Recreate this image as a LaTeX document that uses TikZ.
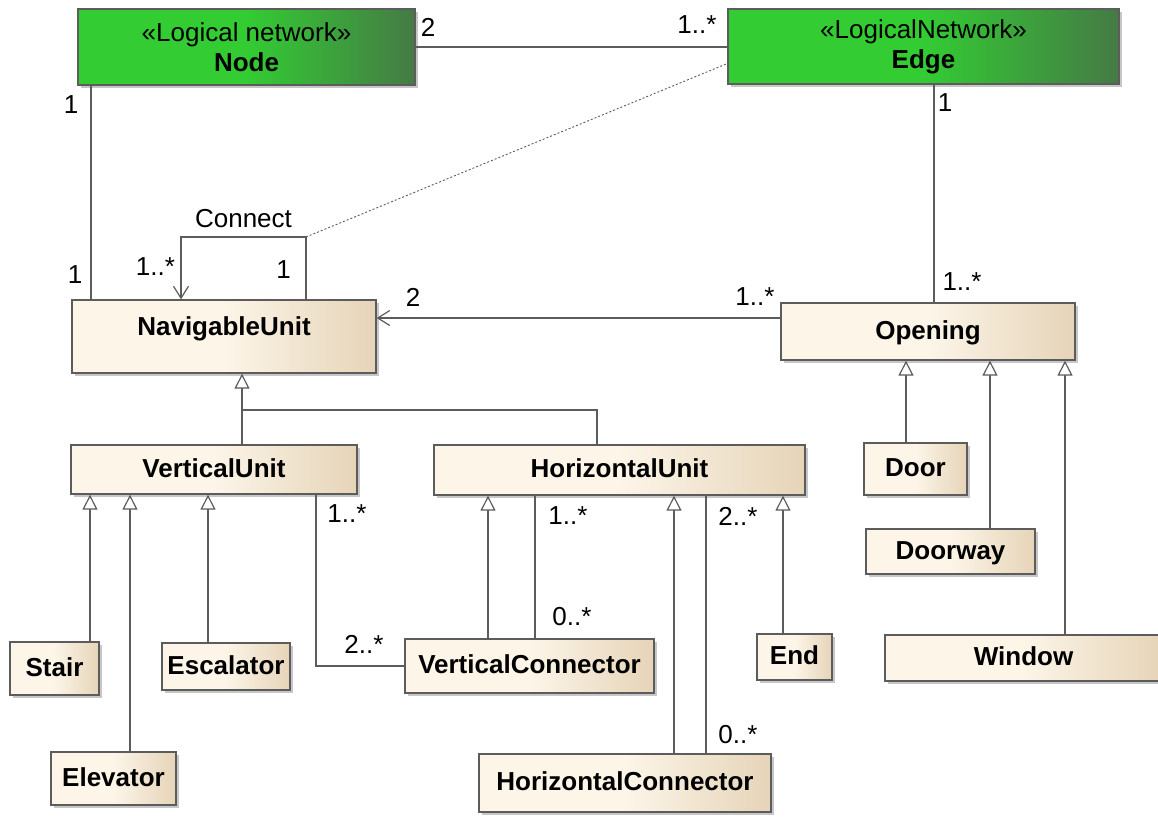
\documentclass[tikz,border=0pt]{standalone}
\usepackage{fontspec}
\setmainfont{Liberation Sans}
\usetikzlibrary{positioning, shapes, arrows.meta, shadows}
\definecolor{beigeL}{HTML}{FCF5E8}
\definecolor{beigeR}{HTML}{E6D4B8}
\definecolor{greenL}{HTML}{33CC33}
\definecolor{greenR}{HTML}{457A45}
\definecolor{umlline}{HTML}{5C5C5C}

\begin{document}
\begin{tikzpicture}[x = 1pt, y = -1pt, thick,
  cls/.style={rectangle, draw = umlline, line width = 1.3pt, left color = beigeL, right color = beigeR, middle color = beigeL, inner sep = 0pt, font = \fontsize{26}{30}\selectfont\bfseries, text height = 19pt, text depth = 4pt, drop shadow = {shadow xshift = 3pt, shadow yshift = -3pt, fill = black, opacity = 0.22}},
  net/.style={rectangle, draw = umlline, line width = 1.3pt, left color = greenL, right color = greenR, middle color = greenL, inner sep = 0pt, align = center, font = \fontsize{26}{30}\selectfont, drop shadow = {shadow xshift = 3pt, shadow yshift = -3pt, fill = black, opacity = 0.22}},
  mult/.style={inner sep = 0pt, font = \fontsize{26}{30}\selectfont},
  link/.style={draw = umlline, line width = 1.2pt},
  gen/.style={link, -{Triangle[length = 15pt, width = 15pt, fill = white]}},
  assoc/.style={link, -{Straight Barb[length = 12pt, width = 15pt]}}]
  \path [use as bounding box, fill = white] (0,0) rectangle (1158,816);

  % nodes
  \node [net, minimum width = 337, minimum height = 76] (node) at (246.5,47) {«Logical network»\\\textbf{Node}};
  \node [net, minimum width = 391, minimum height = 75] (edge) at (923.5,46.5) {«LogicalNetwork»\\\textbf{Edge}};

  \node [cls, minimum width = 304, minimum height = 73, text depth = 22pt] (nav) at (224,336.5) {NavigableUnit};
  \node [cls, minimum width = 294, minimum height = 57] (opening) at (928,331.5) {Opening};

  \node [cls, minimum width = 286, minimum height = 49] (vu) at (214,469.5) {VerticalUnit};
  \node [cls, minimum width = 371, minimum height = 50] (hu) at (619.5,470) {HorizontalUnit};

  \node [cls, minimum width = 103, minimum height = 52] (door) at (915.5,469) {Door};
  \node [cls, minimum width = 169, minimum height = 45] (doorway) at (950.5,551.5) {Doorway};
  \node [cls, minimum width = 277, minimum height = 46] (window) at (1023.5,658) {Window};

  \node [cls, minimum width = 89, minimum height = 53] (stair) at (54.5,668.5) {Stair};
  \node [cls, minimum width = 128, minimum height = 47] (escalator) at (226,666.5) {Escalator};
  \node [cls, minimum width = 125, minimum height = 53] (elevator) at (113.5,778.5) {Elevator};

  \node [cls, minimum width = 249, minimum height = 54] (vconn) at (529.5,666) {VerticalConnector};
  \node [cls, minimum width = 75, minimum height = 46] (endbox) at (794.5,657) {End};
  \node [cls, minimum width = 292, minimum height = 58] (hconn) at (625,783) {HorizontalConnector};

  % columns of the connectors
  \coordinate (cNode) at (91,0);
  \coordinate (cLoopIn) at (181,0);
  \coordinate (cLoopOut) at (306,0);
  \coordinate (cNav) at (242,0);
  \coordinate (cHu) at (597,0);
  \coordinate (cEdge) at (934,0);
  \coordinate (cDoor) at (906,0);
  \coordinate (cDoorway) at (990,0);
  \coordinate (cWindow) at (1065,0);
  \coordinate (cStair) at (90,0);
  \coordinate (cElevator) at (130,0);
  \coordinate (cEscalator) at (208,0);
  \coordinate (cVuVc) at (316,0);
  \coordinate (cVcGen) at (488,0);
  \coordinate (cVcAssoc) at (535,0);
  \coordinate (cHcGen) at (674,0);
  \coordinate (cHcAssoc) at (706,0);
  \coordinate (cEnd) at (783,0);
  \coordinate (loop) at (181,237);
  \coordinate (bar) at (242,410);
  \coordinate (rOpening) at (0,318);

  % edges
  \draw [link] (node.east) -- (node.east -| edge.west);
  \draw [link] (node.south -| cNode) -- (nav.north -| cNode);
  \draw [assoc] (nav.north -| cLoopOut) |- (loop) -- (nav.north -| cLoopIn);
  \draw [link, line width = 0.9pt, dash pattern = on 2pt off 2pt] (loop -| cLoopOut) -- ([yshift = -17pt]edge.west);
  \draw [link] (edge.south -| cEdge) -- (opening.north -| cEdge);
  \draw [assoc] (opening.west |- rOpening) -- (nav.east |- rOpening);

  \draw [gen] (vu.north -| cNav) -- (nav.south -| cNav);
  \draw [link] (hu.north -| cHu) |- (bar);

  \draw [gen] (door.north -| cDoor) -- (opening.south -| cDoor);
  \draw [gen] (doorway.north -| cDoorway) -- (opening.south -| cDoorway);
  \draw [gen] (window.north -| cWindow) -- (opening.south -| cWindow);

  \draw [gen] (stair.north -| cStair) -- (vu.south -| cStair);
  \draw [gen] (elevator.north -| cElevator) -- (vu.south -| cElevator);
  \draw [gen] (escalator.north -| cEscalator) -- (vu.south -| cEscalator);
  \draw [link] (vu.south -| cVuVc) |- (vconn.west);

  \draw [gen] (vconn.north -| cVcGen) -- (hu.south -| cVcGen);
  \draw [link] (vconn.north -| cVcAssoc) -- (hu.south -| cVcAssoc);
  \draw [gen] (hconn.north -| cHcGen) -- (hu.south -| cHcGen);
  \draw [link] (hconn.north -| cHcAssoc) -- (hu.south -| cHcAssoc);
  \draw [gen] (endbox.north -| cEnd) -- (hu.south -| cEnd);

  % multiplicities
  \node [mult] (mNodeEdge) at (428,27.5) {2};
  \node [mult] (mEdgeNode) at (697,25) {1..*};
  \node [mult] (mNodeNav) at (71,105) {1};
  \node [mult] (mNavNode) at (75,275) {1};
  \node [mult] (connect) at (243.5,219) {Connect};
  \node [mult] (mLoopIn) at (155.5,267) {1..*};
  \node [mult] (mLoopOut) at (283.5,270) {1};
  \node [mult] (mNavOpening) at (413,297) {2};
  \node [mult] (mOpeningNav) at (755,297) {1..*};
  \node [mult] (mEdgeOpening) at (945,103) {1};
  \node [mult] (mOpeningEdge) at (962,282) {1..*};
  \node [mult] (mVuVc) at (347,514) {1..*};
  \node [mult] (mVcVu) at (364,644) {2..*};
  \node [mult] (mHuVc) at (568,516) {1..*};
  \node [mult] (mVcHu) at (572,617) {0..*};
  \node [mult] (mHuHc) at (738,516) {2..*};
  \node [mult] (mHcHu) at (738,735) {0..*};
\end{tikzpicture}
\end{document}
